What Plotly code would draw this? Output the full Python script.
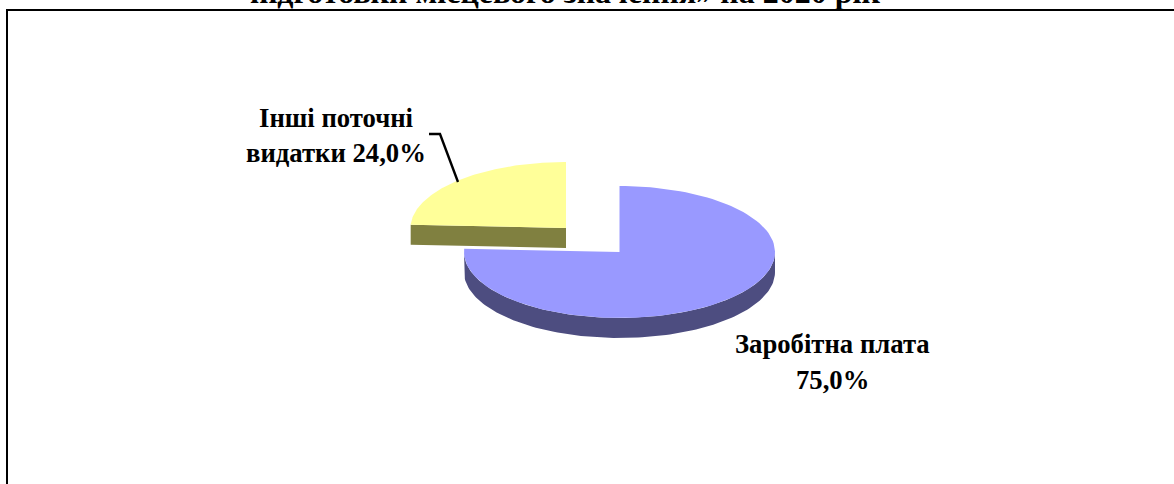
import numpy as np
import plotly.graph_objects as go

# --- data -------------------------------------------------------------
categories = ["Заробітна плата", "Інші поточні видатки"]
values = [75.0, 24.0]
colors_top = ["#9999FF", "#FFFF99"]
colors_side = ["#4D4D80", "#808040"]
title_line = "підготовки місцевого значення» на 2020 рік"
label_lines = [
    ["Заробітна плата", "75,0%"],
    ["Інші поточні", "видатки 24,0%"],
]

# --- layout of the drawing (the axes run in page pixels) -----------------
W, H = 1174, 484
FONT = "Liberation Serif"
FS = 26.7
FS_TITLE = 32
centres = [(619.5, 252.0), (566.0, 228.0)]
RX, RY, DEPTH = 155.5, 66.0, 20.0
total = sum(values)


def rim(cx, cy, a0, a1, n=120):
    """Points on the ellipse, with angles clockwise from 12 o'clock in degrees."""
    t = np.radians(np.linspace(a0, a1, n))
    return cx + RX * np.sin(t), cy - RY * np.cos(t)


def poly(x, y, color, name):
    return go.Scatter(x=x, y=y, mode="lines", fill="toself", fillcolor=color,
                      line=dict(width=0, color=color), hoverinfo="text",
                      text=name, showlegend=False)


traces = []
start = 0.0
for i, v in enumerate(values):
    end = start + v / total * 360.0
    cx, cy = centres[i]
    # side wall
    if i == 0:
        xa, ya = rim(cx, cy, 90, 270)
        wx = np.concatenate([xa, xa[::-1]])
        wy = np.concatenate([ya, ya[::-1] + DEPTH])
    else:
        xa, ya = rim(cx, cy, start, start, 1)
        wx = np.array([xa[0], cx, cx, xa[0]])
        wy = np.array([ya[0], cy, cy + DEPTH, ya[0] + DEPTH])
    traces.append(poly(wx, wy, colors_side[i], categories[i]))
    # top face
    xa, ya = rim(cx, cy, start, end)
    traces.append(poly(np.concatenate([[cx], xa, [cx]]),
                       np.concatenate([[cy], ya, [cy]]),
                       colors_top[i], categories[i]))
    start = end

# leader line of the second label
traces.append(go.Scatter(x=[429, 440, 458], y=[134, 134, 182], mode="lines",
                         line=dict(color="black", width=2.4), hoverinfo="skip",
                         showlegend=False))


def note(text, x, y, size=FS, yanchor="middle"):
    return dict(text=f"<b>{text}</b>", x=x, y=y, xref="x", yref="y",
                xanchor="center", yanchor=yanchor, showarrow=False,
                font=dict(family=FONT, size=size, color="black"))


annotations = [
    note(title_line, 565, 12, FS_TITLE, "bottom"),
    note(label_lines[0][0], 832, 344),
    note(label_lines[0][1], 832, 380),
    note(label_lines[1][0], 336, 118),
    note(label_lines[1][1], 336, 153),
]

fig = go.Figure(traces)
fig.update_layout(
    width=W, height=H, margin=dict(l=0, r=0, t=0, b=0),
    paper_bgcolor="white", plot_bgcolor="white",
    xaxis=dict(range=[0, W], visible=False, fixedrange=True),
    yaxis=dict(range=[H, 0], visible=False, fixedrange=True),
    annotations=annotations,
    shapes=[dict(type="rect", x0=7, y0=10, x1=W + 20, y1=H + 20, xref="x", yref="y",
                 line=dict(color="black", width=2), layer="above")],
)
fig.write_html("out.html", config={"displayModeBar": False},
               post_script="document.body.style.margin='0';document.body.style.overflow='hidden';")
